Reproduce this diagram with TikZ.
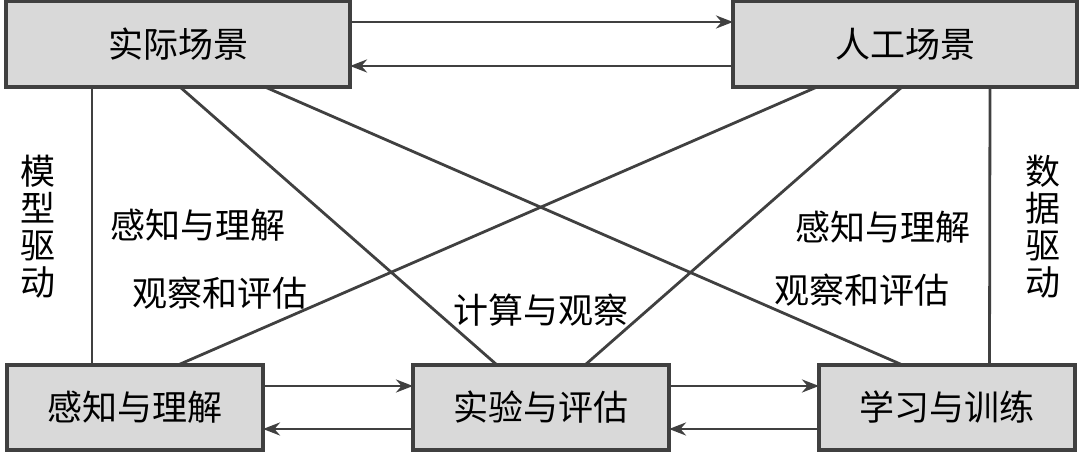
\documentclass[tikz,border=0pt]{standalone}
\usepackage{fontspec}
\setmainfont{Noto Sans CJK SC}
\usetikzlibrary{positioning}
\usetikzlibrary{arrows.meta}

\definecolor{linegray}{RGB}{64,64,64}
\definecolor{boxgray}{RGB}{217,217,217}

\begin{document}
\begin{tikzpicture}[x=1pt,y=1pt,>={Stealth[length=17pt,width=13pt]},
	draw=linegray,line width=2.8pt,
	top box/.style={rectangle,draw=linegray,fill=boxgray,line width=3.4pt,
		minimum width=344pt,minimum height=86pt,inner sep=0pt,outer sep=0pt,
		font=\fontsize{35}{40}\selectfont},
	bottom box/.style={top box,minimum width=256pt,minimum height=85pt},
	label text/.style={font=\fontsize{35}{37}\selectfont,align=center,inner sep=0pt}]
	
	\useasboundingbox (0,0) rectangle (1080,454);
	
	\node[top box] (sj) at (178,410) {实际场景};
	\node[top box] (rg) [right=383pt of sj] {人工场景};
	\node[bottom box] (gz) at (135,46.5) {感知与理解};
	\node[bottom box] (sy) [right=150pt of gz] {实验与评估};
	\node[bottom box] (xx) [right=150pt of sy] {学习与训练};
	
	\path
	([yshift=22pt]sj.east) edge[->] ([yshift=22pt]rg.west)
	([yshift=-22pt]rg.west) edge[->] ([yshift=-22pt]sj.east)
	([yshift=21.5pt]gz.east) edge[->] ([yshift=21.5pt]sy.west)
	([yshift=-21.5pt]sy.west) edge[->] ([yshift=-21.5pt]gz.east)
	([yshift=21.5pt]sy.east) edge[->] ([yshift=21.5pt]xx.west)
	([yshift=-21.5pt]xx.west) edge[->] ([yshift=-21.5pt]sy.east)
	([xshift=-86pt]sj.south) edge ([xshift=-43pt]gz.north)
	([xshift=85pt]rg.south) edge ([xshift=42.5pt]xx.north)
	([xshift=2pt]sj.south) edge ([xshift=-44pt]sy.north)
	([xshift=87pt]sj.south) edge ([xshift=-44.5pt]xx.north)
	([xshift=-88pt]rg.south) edge ([xshift=43pt]gz.north)
	([xshift=-3pt]rg.south) edge ([xshift=44pt]sy.north);
	
	\node[label text] (mx) at (38,227) {模\\型\\驱\\动};
	\node[label text] (sq) at (1043,227) {数\\据\\驱\\动};
	\node[label text] (gzl) at (198,229) {感知与理解};
	\node[label text] (gcl) at (220,161) {观察和评估};
	\node[label text] (gzr) at (883,227) {感知与理解};
	\node[label text] (gcr) at (862,164) {观察和评估};
	\node[label text] (js) at (541,144) {计算与观察};
\end{tikzpicture}
\end{document}
